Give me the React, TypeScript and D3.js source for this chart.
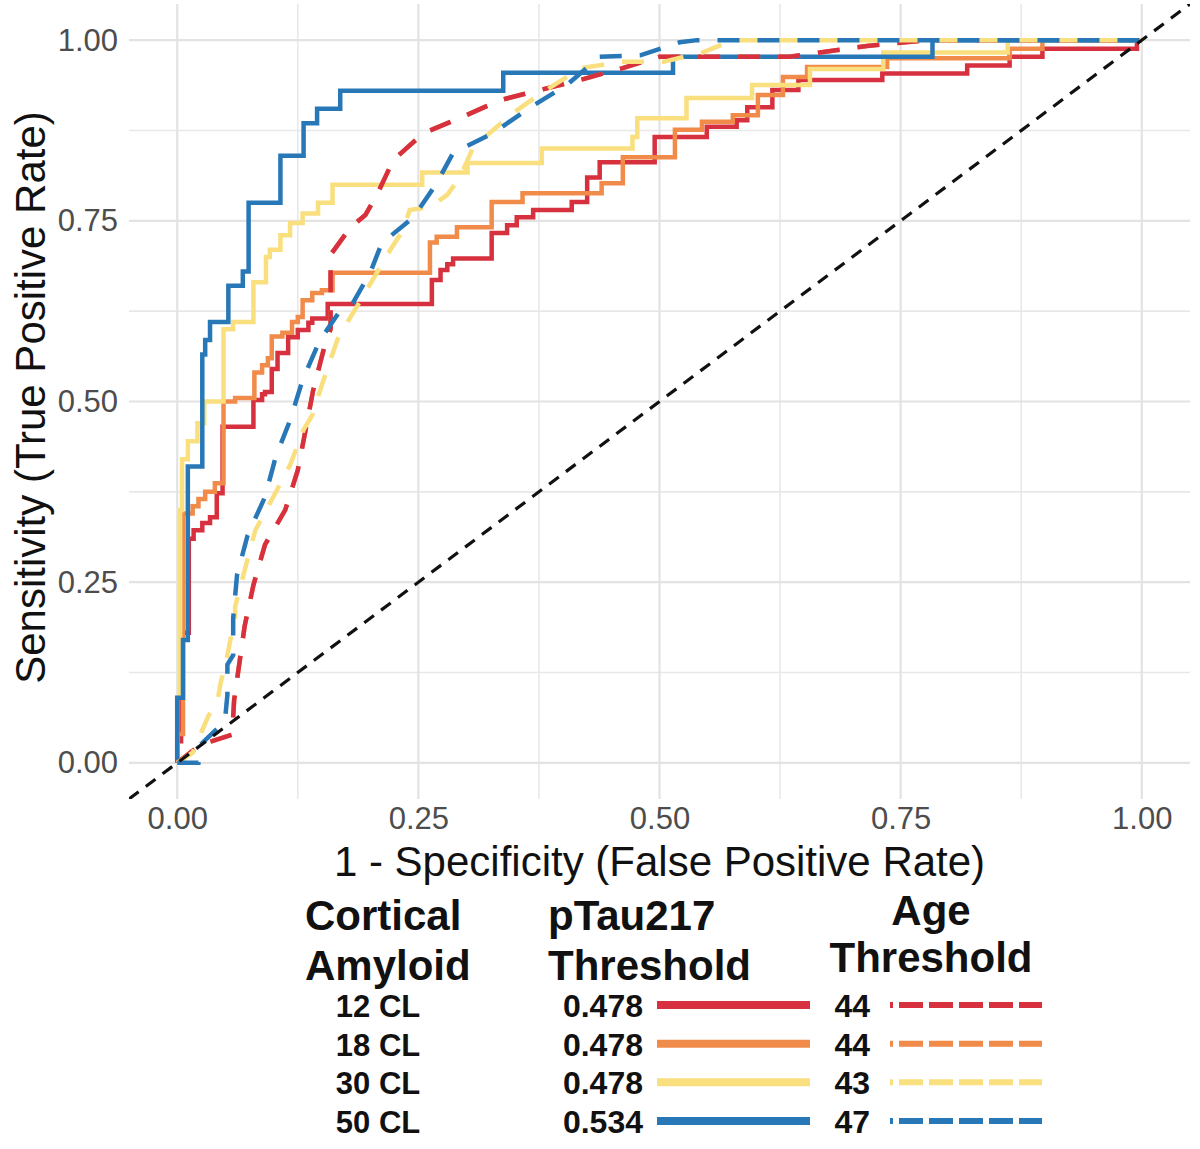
import React, { useEffect, useRef } from 'react';
import * as d3 from 'd3';

type Pt = [number, number];

// Legend / category labels
const amyloidLabels = ['12 CL', '18 CL', '30 CL', '50 CL'];
const pTauThresholds = ['0.478', '0.478', '0.478', '0.534'];
const ageThresholds = ['44', '44', '43', '47'];
const lineColors = ['#d7303e', '#f18b4a', '#f9df7e', '#2878b8'];
const majorTicks = [0, 0.25, 0.5, 0.75, 1];
const minorTicks = [0.125, 0.375, 0.625, 0.875];

// ROC curves, [1 - specificity, sensitivity], pTau217 (solid)
const pTauCL12: Pt[] = [
  [0, 0], [0, 0.03], [0.004, 0.03], [0.004, 0.18], [0.012, 0.18], [0.012, 0.31], [0.017, 0.31],
  [0.017, 0.322], [0.026, 0.322], [0.026, 0.332], [0.034, 0.332], [0.034, 0.34], [0.041, 0.34],
  [0.041, 0.373], [0.047, 0.373], [0.047, 0.465], [0.079, 0.465], [0.079, 0.502], [0.088, 0.502],
  [0.088, 0.51], [0.091, 0.51], [0.091, 0.513], [0.098, 0.513], [0.098, 0.545], [0.104, 0.545],
  [0.104, 0.567], [0.115, 0.567], [0.115, 0.589], [0.125, 0.589], [0.125, 0.599], [0.136, 0.599],
  [0.136, 0.609], [0.14, 0.609], [0.14, 0.615], [0.156, 0.615], [0.156, 0.635], [0.264, 0.635],
  [0.264, 0.668], [0.273, 0.668], [0.273, 0.682], [0.28, 0.682], [0.28, 0.69], [0.286, 0.69],
  [0.286, 0.698], [0.326, 0.698], [0.326, 0.733], [0.342, 0.733], [0.342, 0.744], [0.352, 0.744],
  [0.352, 0.755], [0.369, 0.755], [0.369, 0.765], [0.409, 0.765], [0.409, 0.776], [0.425, 0.776],
  [0.425, 0.81], [0.438, 0.81], [0.438, 0.831], [0.495, 0.831], [0.495, 0.866], [0.549, 0.866],
  [0.549, 0.88], [0.58, 0.88], [0.58, 0.889], [0.591, 0.889], [0.591, 0.907], [0.617, 0.907],
  [0.617, 0.931], [0.644, 0.931], [0.644, 0.945], [0.731, 0.945], [0.731, 0.954], [0.819, 0.954],
  [0.819, 0.965], [0.863, 0.965], [0.863, 0.977], [0.897, 0.977], [0.897, 0.988], [0.995, 0.988],
  [0.995, 1], [1, 1],
];
const pTauCL18: Pt[] = [
  [0, 0], [0, 0.04], [0.006, 0.04], [0.006, 0.345], [0.016, 0.345], [0.016, 0.355], [0.022, 0.355],
  [0.022, 0.365], [0.029, 0.365], [0.029, 0.375], [0.039, 0.375], [0.039, 0.387], [0.048, 0.387],
  [0.048, 0.5], [0.06, 0.5], [0.06, 0.505], [0.08, 0.505], [0.08, 0.54], [0.088, 0.54], [0.088, 0.55],
  [0.094, 0.55], [0.094, 0.56], [0.098, 0.56], [0.098, 0.59], [0.109, 0.59], [0.109, 0.595],
  [0.119, 0.595], [0.119, 0.61], [0.125, 0.61], [0.125, 0.617], [0.13, 0.617], [0.13, 0.64],
  [0.14, 0.64], [0.14, 0.65], [0.15, 0.65], [0.15, 0.654], [0.161, 0.654], [0.161, 0.678],
  [0.262, 0.678], [0.262, 0.72], [0.269, 0.72], [0.269, 0.728], [0.29, 0.728], [0.29, 0.741],
  [0.326, 0.741], [0.326, 0.776], [0.358, 0.776], [0.358, 0.788], [0.44, 0.788], [0.44, 0.802],
  [0.462, 0.802], [0.462, 0.838], [0.516, 0.838], [0.516, 0.876], [0.544, 0.876], [0.544, 0.887],
  [0.576, 0.887], [0.576, 0.896], [0.602, 0.896], [0.602, 0.924], [0.628, 0.924], [0.628, 0.949],
  [0.653, 0.949], [0.653, 0.963], [0.736, 0.963], [0.736, 0.975], [0.863, 0.975], [0.863, 0.988],
  [0.897, 0.988], [0.897, 1], [1, 1],
];
const pTauCL30: Pt[] = [
  [0, 0], [0, 0.09], [0.003, 0.09], [0.003, 0.35], [0.005, 0.35], [0.005, 0.42], [0.011, 0.42],
  [0.011, 0.445], [0.021, 0.445], [0.021, 0.47], [0.028, 0.47], [0.028, 0.5], [0.048, 0.5],
  [0.048, 0.6], [0.058, 0.6], [0.058, 0.61], [0.079, 0.61], [0.079, 0.665], [0.092, 0.665],
  [0.092, 0.7], [0.096, 0.7], [0.096, 0.71], [0.107, 0.71], [0.107, 0.73], [0.117, 0.73],
  [0.117, 0.747], [0.13, 0.747], [0.13, 0.76], [0.146, 0.76], [0.146, 0.775], [0.161, 0.775],
  [0.161, 0.8], [0.254, 0.8], [0.254, 0.817], [0.301, 0.817], [0.301, 0.83], [0.378, 0.83],
  [0.378, 0.85], [0.472, 0.85], [0.472, 0.866], [0.477, 0.866], [0.477, 0.892], [0.528, 0.892],
  [0.528, 0.92], [0.596, 0.92], [0.596, 0.938], [0.656, 0.938], [0.656, 0.96], [0.732, 0.96],
  [0.732, 0.983], [0.861, 0.983], [0.861, 1], [1, 1],
];
const pTauCL50: Pt[] = [
  [0, 0], [0, 0.09], [0.006, 0.09], [0.006, 0.17], [0.011, 0.17], [0.011, 0.41], [0.026, 0.41],
  [0.026, 0.565], [0.029, 0.565], [0.029, 0.585], [0.034, 0.585], [0.034, 0.61], [0.053, 0.61],
  [0.053, 0.66], [0.068, 0.66], [0.068, 0.68], [0.074, 0.68], [0.074, 0.775], [0.107, 0.775],
  [0.107, 0.84], [0.131, 0.84], [0.131, 0.885], [0.145, 0.885], [0.145, 0.905], [0.169, 0.905],
  [0.169, 0.93], [0.338, 0.93], [0.338, 0.955], [0.514, 0.955], [0.514, 0.977], [0.783, 0.977],
  [0.783, 1], [1, 1],
];

// ROC curves, age (dashed)
const ageCL12: Pt[] = [
  [0, 0], [0.024, 0.025], [0.057, 0.039], [0.059, 0.087], [0.062, 0.115], [0.07, 0.19],
  [0.079, 0.246], [0.091, 0.302], [0.112, 0.35], [0.125, 0.405], [0.133, 0.46], [0.141, 0.516],
  [0.153, 0.578], [0.159, 0.6], [0.159, 0.703], [0.179, 0.74], [0.195, 0.758], [0.207, 0.786],
  [0.224, 0.834], [0.255, 0.871], [0.296, 0.894], [0.335, 0.917], [0.376, 0.931], [0.418, 0.945],
  [0.461, 0.961], [0.5, 0.977], [0.635, 0.977], [0.715, 0.992], [0.78, 1], [1, 1],
];
const ageCL18: Pt[] = [
  [0, 0], [0.024, 0.025], [0.057, 0.039], [0.059, 0.087], [0.062, 0.115], [0.07, 0.19],
  [0.079, 0.246], [0.091, 0.302], [0.112, 0.35], [0.125, 0.405], [0.133, 0.46], [0.141, 0.516],
  [0.153, 0.578], [0.159, 0.6], [0.159, 0.703], [0.179, 0.74], [0.195, 0.758], [0.207, 0.786],
  [0.224, 0.834], [0.255, 0.871], [0.296, 0.894], [0.335, 0.917], [0.376, 0.931], [0.418, 0.945],
  [0.461, 0.961], [0.5, 0.977], [0.635, 0.977], [0.715, 0.992], [0.78, 1], [1, 1],
];
const ageCL30: Pt[] = [
  [0, 0], [0.016, 0.014], [0.032, 0.064], [0.042, 0.087], [0.045, 0.111], [0.05, 0.136],
  [0.053, 0.156], [0.06, 0.202], [0.06, 0.216], [0.07, 0.267], [0.081, 0.322], [0.098, 0.364],
  [0.117, 0.412], [0.131, 0.461], [0.14, 0.481], [0.15, 0.523], [0.167, 0.589], [0.187, 0.633],
  [0.221, 0.71], [0.234, 0.737], [0.241, 0.765], [0.262, 0.769], [0.28, 0.786], [0.293, 0.81],
  [0.307, 0.852], [0.348, 0.899], [0.379, 0.928], [0.418, 0.961], [0.459, 0.97], [0.504, 0.97],
  [0.545, 0.983], [0.576, 1], [1, 1],
];
const ageCL50: Pt[] = [
  [0, 0], [0.022, 0], [0.024, 0.025], [0.042, 0.048], [0.05, 0.066], [0.052, 0.094],
  [0.052, 0.136], [0.058, 0.149], [0.058, 0.2], [0.062, 0.26], [0.073, 0.315], [0.091, 0.368],
  [0.102, 0.423], [0.117, 0.474], [0.13, 0.53], [0.148, 0.585], [0.167, 0.622], [0.182, 0.636],
  [0.2, 0.678], [0.212, 0.719], [0.245, 0.755], [0.269, 0.802], [0.286, 0.844], [0.327, 0.871],
  [0.366, 0.907], [0.404, 0.938], [0.438, 0.977], [0.48, 0.979], [0.521, 0.997], [0.539, 1], [1, 1],
];

const pTauSeries = [pTauCL12, pTauCL18, pTauCL30, pTauCL50];
const ageSeries = [ageCL12, ageCL18, ageCL30, ageCL50];
const diagonal: Pt[] = [[-0.05, -0.05], [1.05, 1.05]];

const FONT = '"Liberation Sans", Arial, Helvetica, sans-serif';

const RocChart: React.FC = () => {
  const svgRef = useRef<SVGSVGElement>(null);
  const width = 1200;
  const height = 1149;

  useEffect(() => {
    document.body.style.margin = '0';
    if (!svgRef.current) return;
    const svg = d3.select(svgRef.current);
    svg.selectAll('*').remove();

    const panel = { left: 129, right: 1190, top: 4, bottom: 799 };

    const x = d3.scaleLinear().domain([-0.05, 1.05]).range([panel.left, panel.right]);
    const y = d3.scaleLinear().domain([-0.05, 1.05]).range([panel.bottom, panel.top]);

    svg.append('rect').attr('width', width).attr('height', height).attr('fill', '#fff');

    // Grid
    const grid = svg.append('g');
    minorTicks.forEach(t => {
      grid.append('line')
        .attr('x1', x(t)).attr('x2', x(t)).attr('y1', panel.top).attr('y2', panel.bottom)
        .attr('stroke', '#e8e8e8').attr('stroke-width', 1.6);
      grid.append('line')
        .attr('x1', panel.left).attr('x2', panel.right).attr('y1', y(t)).attr('y2', y(t))
        .attr('stroke', '#e8e8e8').attr('stroke-width', 1.6);
    });
    majorTicks.forEach(t => {
      grid.append('line')
        .attr('x1', x(t)).attr('x2', x(t)).attr('y1', panel.top).attr('y2', panel.bottom)
        .attr('stroke', '#e3e3e3').attr('stroke-width', 2.2);
      grid.append('line')
        .attr('x1', panel.left).attr('x2', panel.right).attr('y1', y(t)).attr('y2', y(t))
        .attr('stroke', '#e3e3e3').attr('stroke-width', 2.2);
    });

    // Axes
    const fmt = d3.format('.2f');
    const xAxis = svg.append('g')
      .attr('transform', `translate(0,${panel.bottom})`)
      .call(d3.axisBottom(x).tickValues(majorTicks).tickFormat(d => fmt(+d)).tickSize(0).tickPadding(8));
    const yAxis = svg.append('g')
      .attr('transform', `translate(${panel.left},0)`)
      .call(d3.axisLeft(y).tickValues(majorTicks).tickFormat(d => fmt(+d)).tickSize(0).tickPadding(11));
    [xAxis, yAxis].forEach(a => {
      a.select('.domain').remove();
      a.selectAll('text')
        .attr('fill', '#4d4d4d')
        .style('font-family', FONT)
        .style('font-size', '31px');
    });

    svg.append('text')
      .attr('x', (panel.left + panel.right) / 2)
      .attr('y', 876)
      .attr('text-anchor', 'middle')
      .style('font-family', FONT)
      .style('font-size', '42px')
      .attr('fill', '#111')
      .text('1 - Specificity (False Positive Rate)');

    svg.append('text')
      .attr('transform', `translate(45,${(panel.top + panel.bottom) / 2 - 4}) rotate(-90)`)
      .attr('text-anchor', 'middle')
      .style('font-family', FONT)
      .style('font-size', '42px')
      .attr('fill', '#111')
      .text('Sensitivity (True Positive Rate)');

    // Curves
    svg.append('clipPath').attr('id', 'panel-clip')
      .append('rect')
      .attr('x', panel.left).attr('y', panel.top)
      .attr('width', panel.right - panel.left).attr('height', panel.bottom - panel.top);

    const plot = svg.append('g').attr('clip-path', 'url(#panel-clip)');
    const line = d3.line<Pt>().x(d => x(d[0])).y(d => y(d[1]));

    pTauSeries.forEach((s, i) => {
      plot.append('path')
        .attr('d', line(s))
        .attr('fill', 'none')
        .attr('stroke', lineColors[i])
        .attr('stroke-width', 4.5)
        .attr('stroke-linejoin', 'miter');
    });

    [1, 0, 2, 3].forEach(i => {
      plot.append('path')
        .attr('d', line(ageSeries[i]))
        .attr('fill', 'none')
        .attr('stroke', lineColors[i])
        .attr('stroke-width', 4.5)
        .attr('stroke-dasharray', '22 18');
    });

    plot.append('path')
      .attr('d', line(diagonal))
      .attr('fill', 'none')
      .attr('stroke', '#111')
      .attr('stroke-width', 3.2)
      .attr('stroke-dasharray', '12 9');

    // Legend
    const legend = svg.append('g')
      .style('font-family', FONT)
      .style('font-weight', 'bold')
      .attr('fill', '#111');

    const title = (t: string, lx: number, ly: number, anchor: string) =>
      legend.append('text').attr('x', lx).attr('y', ly).attr('text-anchor', anchor)
        .style('font-size', '42px').text(t);

    title('Cortical', 305, 930, 'start');
    title('Amyloid', 305, 980, 'start');
    title('pTau217', 548, 930, 'start');
    title('Threshold', 548, 980, 'start');
    title('Age', 931, 925, 'middle');
    title('Threshold', 931, 972, 'middle');

    const rowY = d3.scalePoint<string>().domain(amyloidLabels).range([1005, 1121]);

    amyloidLabels.forEach((lab, i) => {
      const cy = rowY(lab) as number;
      legend.append('text').attr('x', 378).attr('y', cy + 12).attr('text-anchor', 'middle')
        .style('font-size', '31px').text(lab);
      legend.append('text').attr('x', 643).attr('y', cy + 12).attr('text-anchor', 'end')
        .style('font-size', '32px').text(pTauThresholds[i]);
      legend.append('text').attr('x', 870).attr('y', cy + 12).attr('text-anchor', 'end')
        .style('font-size', '32px').text(ageThresholds[i]);
      legend.append('line')
        .attr('x1', 657).attr('x2', 810).attr('y1', cy).attr('y2', cy)
        .attr('stroke', lineColors[i]).attr('stroke-width', 8);
      legend.append('line')
        .attr('x1', 890).attr('x2', 1042).attr('y1', cy).attr('y2', cy)
        .attr('stroke', lineColors[i]).attr('stroke-width', 6)
        .attr('stroke-dasharray', '24 6').attr('stroke-dashoffset', 21);
    });
  }, []);

  return (
    <svg ref={svgRef} width={width} height={height} style={{ display: 'block' }} />
  );
};

export default function App() {
  return <RocChart />;
}
